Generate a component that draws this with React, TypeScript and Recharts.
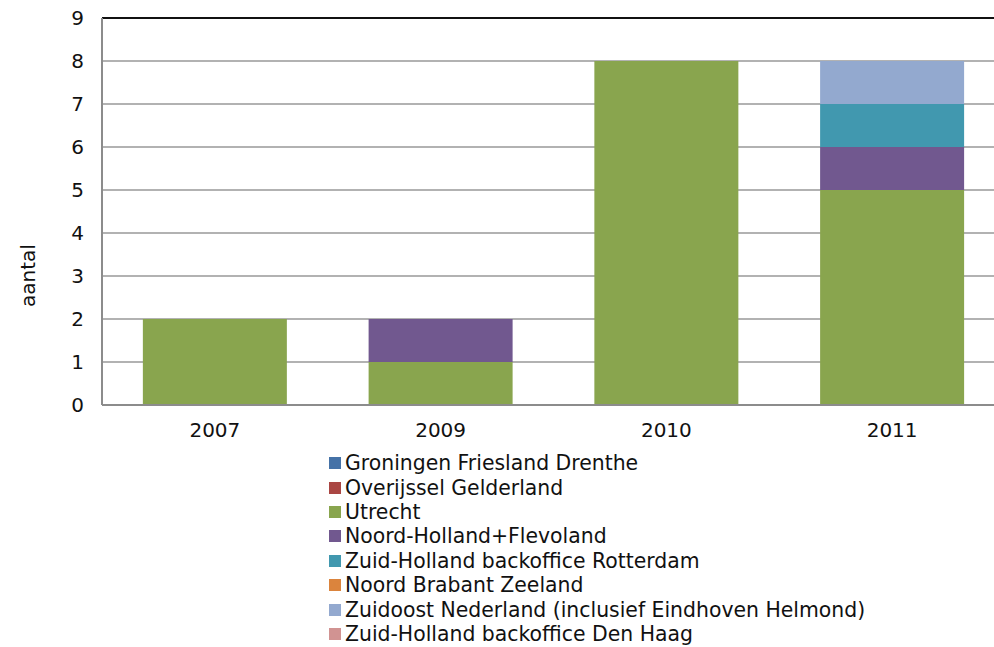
import { BarChart, Bar, XAxis, YAxis, CartesianGrid, ReferenceLine } from 'recharts'

const YEARS = ['2007', '2009', '2010', '2011']
const Y_TICKS = [0, 1, 2, 3, 4, 5, 6, 7, 8, 9]

const groningen = [0, 0, 0, 0]
const overijssel = [0, 0, 0, 0]
const utrecht = [2, 1, 8, 5]
const noordHolland = [0, 1, 0, 1]
const zhRotterdam = [0, 0, 0, 1]
const noordBrabant = [0, 0, 0, 0]
const zuidoost = [0, 0, 0, 1]
const zhDenHaag = [0, 0, 0, 0]

const SERIES = [
  { key: 'gfd', name: 'Groningen Friesland Drenthe', color: '#4572A7', values: groningen },
  { key: 'og', name: 'Overijssel Gelderland', color: '#AA4643', values: overijssel },
  { key: 'utr', name: 'Utrecht', color: '#89A54E', values: utrecht },
  { key: 'nhf', name: 'Noord-Holland+Flevoland', color: '#71588F', values: noordHolland },
  { key: 'zhr', name: 'Zuid-Holland backoffice Rotterdam', color: '#4198AF', values: zhRotterdam },
  { key: 'nbz', name: 'Noord Brabant Zeeland', color: '#DB843D', values: noordBrabant },
  { key: 'zon', name: 'Zuidoost Nederland (inclusief Eindhoven Helmond)', color: '#93A9CF', values: zuidoost },
  { key: 'zhdh', name: 'Zuid-Holland backoffice Den Haag', color: '#D19392', values: zhDenHaag },
]

const chartData = YEARS.map((year, i) => {
  const row: Record<string, string | number> = { year }
  SERIES.forEach(s => { row[s.key] = s.values[i] })
  return row
})

const FONT = '"DejaVu Sans", Verdana, sans-serif'

export default function App() {
  // plot area runs a little past the right edge in the original, so clip it
  return (
    <div style={{ position: 'absolute', left: 0, top: 0, width: 994, height: 647, overflow: 'hidden', background: '#fff', fontFamily: FONT }}>
      <BarChart
        width={1005}
        height={450}
        data={chartData}
        margin={{ top: 18, right: 0, left: 0, bottom: 0 }}
        barCategoryGap="18.1%"
      >
        <CartesianGrid vertical={false} stroke="#999" strokeWidth={1.5} />
        <XAxis
          dataKey="year"
          height={45}
          tickLine={false}
          tickMargin={12}
          stroke="#8c8c8c"
          strokeWidth={2}
          tick={{ fontSize: 20, fill: '#111', fontFamily: FONT }}
        />
        <YAxis
          domain={[0, 9]}
          ticks={Y_TICKS}
          interval={0}
          width={102}
          tickLine={false}
          tickSize={6}
          tickMargin={12}
          stroke="#8c8c8c"
          strokeWidth={2}
          tick={{ fontSize: 20, fill: '#111', fontFamily: FONT }}
          label={{ value: 'aantal', angle: -90, position: 'center', dx: -23, dy: 64, fontSize: 20, fill: '#111', fontFamily: FONT }}
        />
        {SERIES.map(s => (
          <Bar key={s.key} dataKey={s.key} name={s.name} stackId="a" fill={s.color} isAnimationActive={false} />
        ))}
        <ReferenceLine y={9} stroke="#111" strokeWidth={2} />
      </BarChart>
      <div style={{ position: 'absolute', left: 329, top: 451 }}>
        {SERIES.map(s => (
          <div key={s.key} style={{ display: 'flex', alignItems: 'center', height: 24.4, fontSize: 20.4, color: '#111', whiteSpace: 'nowrap' }}>
            <span style={{ display: 'inline-block', width: 12, height: 12, background: s.color, marginRight: 4 }} />
            {s.name}
          </div>
        ))}
      </div>
    </div>
  )
}
